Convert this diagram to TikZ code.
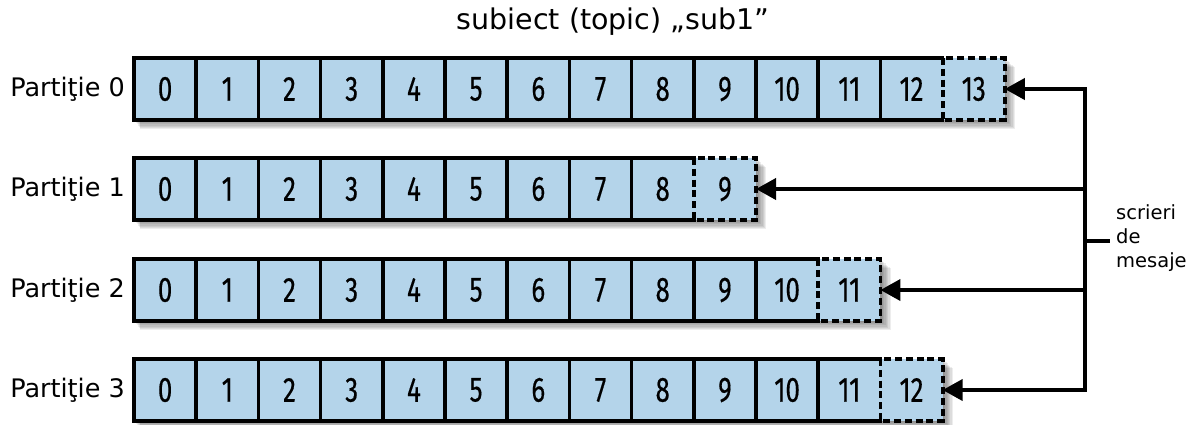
\documentclass[tikz,border=0pt]{standalone}
\usepackage{fontspec}
\setmainfont{DejaVu Sans}
\newfontfamily\digitfont[FakeBold=0.5]{Fira Sans}
\usetikzlibrary{arrows.meta}
\definecolor{cellblue}{RGB}{180,212,234}
\newcommand\cellnum[1]{\scalebox{0.74}[1]{\digitfont\fontsize{35}{35}\selectfont #1}}
\tikzset{
  cell/.style={fill=cellblue, draw=none, minimum width=62.2pt, minimum height=62pt,
               inner sep=0pt, outer sep=0pt, anchor=center},
  border/.style={line width=3.6pt, line join=miter, line cap=rect},
  newcell/.style={line width=3.8pt, dash pattern=on 7pt off 3.8pt, line join=miter},
  feed/.style={line width=3.8pt, line join=miter, -{Triangle[length=20pt,width=21pt]}},
  plabel/.style={anchor=east, inner sep=0pt, font=\fontsize{25.5}{30}\selectfont},
}
\begin{document}
\begin{tikzpicture}[x=1pt,y=-1pt]
\useasboundingbox (0,0) rectangle (1190,424);
\node[inner sep=0pt, font=\fontsize{28.5}{32}\selectfont] (title) at (613,22) {subiect (topic) „sub1”};
% rows: index / number of cells / centre line
\foreach \r/\n/\y in {0/14/89, 1/10/189, 2/12/290, 3/13/390}{
  \pgfmathtruncatemacro\last{\n-1}
  \pgfmathsetmacro\xend{134+62.2*\n}
  % soft drop shadow
  \foreach \k in {1,...,8}{
    \fill[black, opacity=0.07] (134+\k*0.8, \y-31+\k*1.1) rectangle (\xend+\k*1.3, \y+31+\k*1.1);
  }
  \foreach \i in {0,...,\last}{
    \node[cell] (c-\r-\i) at (134+62.2*\i+31.1, \y) {\cellnum{\i}};
  }
  % solid outline of the stored messages
  \draw[border] (c-\r-\last.north west) -- (c-\r-0.north west) -- (c-\r-0.south west) -- (c-\r-\last.south west);
  \pgfmathtruncatemacro\pen{\n-2}
  \foreach \i in {0,...,\pen}{
    \ifnum\i<\pen
      \draw[border] (c-\r-\i.north east) -- (c-\r-\i.south east);
    \fi
  }
  % slot for the next message
  \draw[newcell] (c-\r-\last.north west) rectangle (c-\r-\last.south east);
  \node[plabel] (p-\r) at (125,\y) {Partiţie \r};
  \coordinate (bus-\r) at (1085,\y);
}
\draw[feed] (bus-1) -- (bus-0) -- (c-0-13.east);
\draw[feed] (bus-1) -- (c-1-9.east);
\draw[feed] (bus-2) -- (c-2-11.east);
\draw[feed] (bus-2) -- (bus-3) -- (c-3-12.east);
\draw[border, line width=3.8pt, line cap=butt] (bus-1) -- (bus-2);
\coordinate (tap) at (1085,241);
\coordinate (tapend) at (1110,241);
\draw[line width=3.8pt] (tap) -- (tapend);
\node[anchor=west, inner sep=0pt, align=left, font=\fontsize{19.5}{24}\selectfont] (writes) at (1116,238) {scrieri\\de\\mesaje};
\end{tikzpicture}
\end{document}
